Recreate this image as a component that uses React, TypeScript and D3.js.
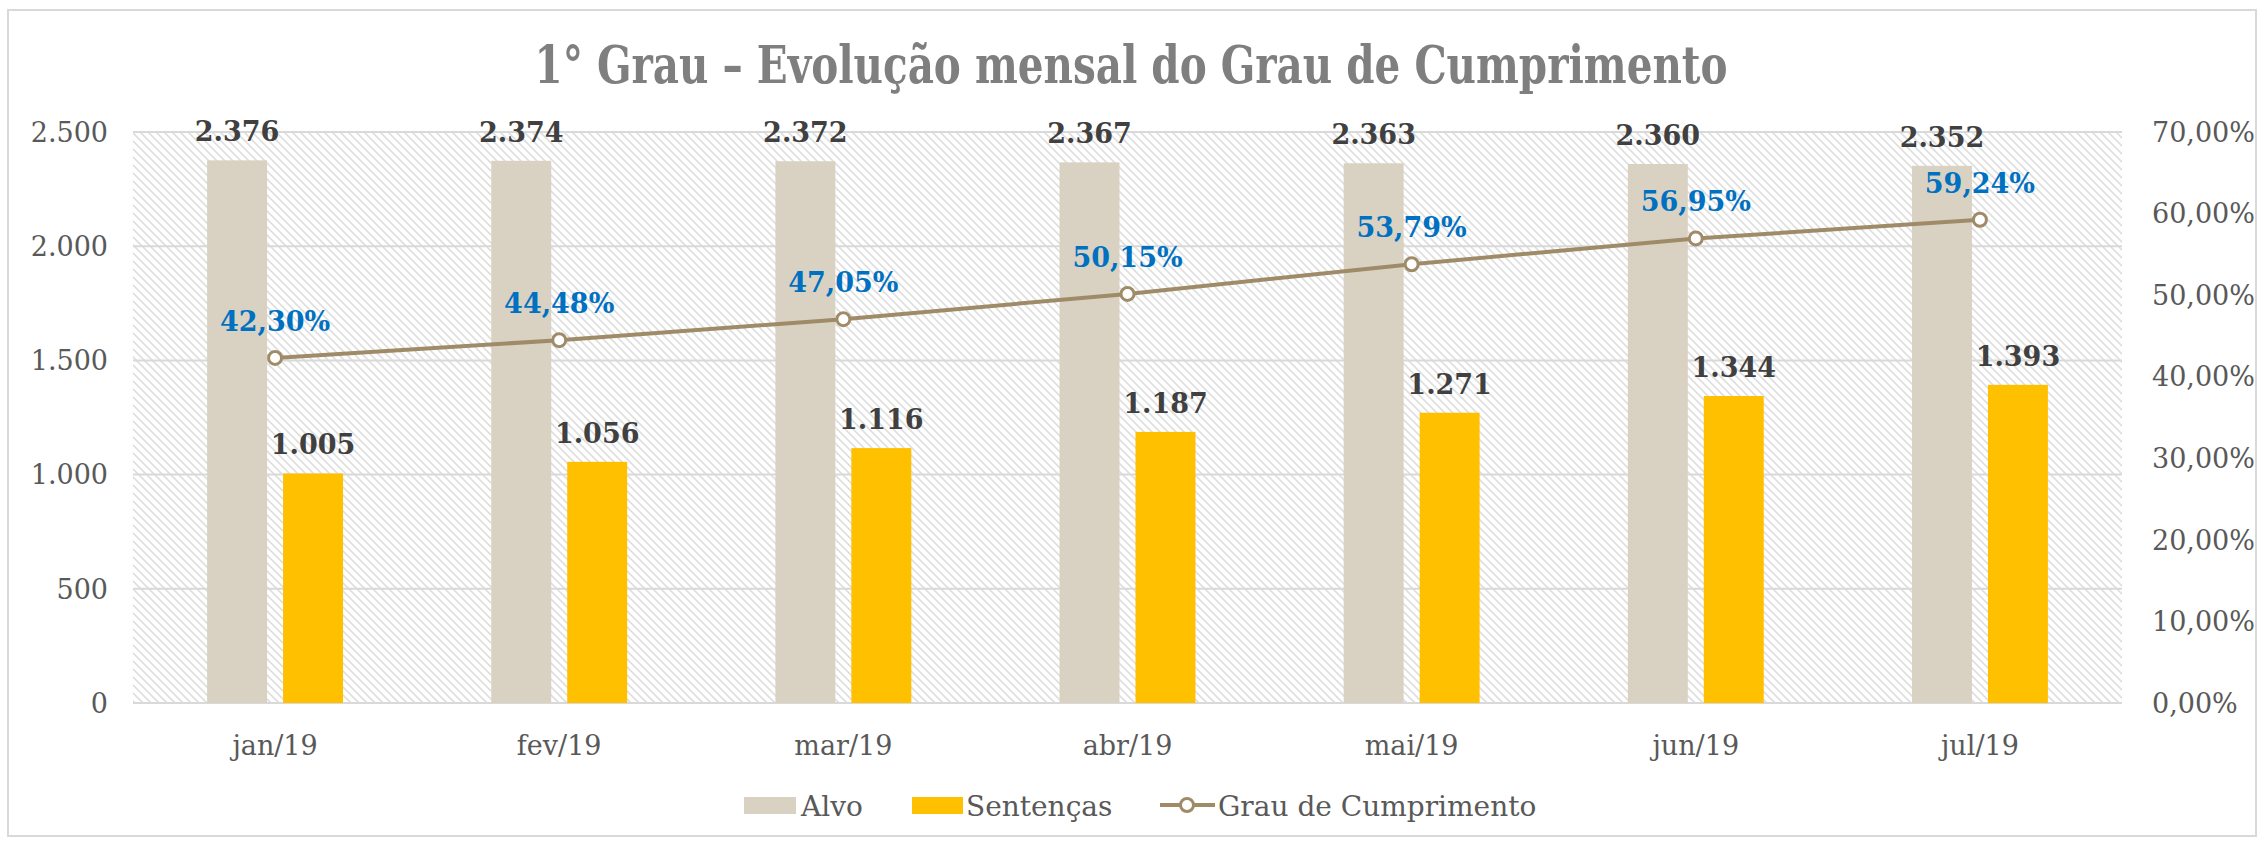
import React from 'react';
import * as d3 from 'd3';

const months = ['jan/19', 'fev/19', 'mar/19', 'abr/19', 'mai/19', 'jun/19', 'jul/19'];
const alvo = [2376, 2374, 2372, 2367, 2363, 2360, 2352];
const sentencas = [1005, 1056, 1116, 1187, 1271, 1344, 1393];
const grau = [42.30, 44.48, 47.05, 50.15, 53.79, 56.95, 59.24];
const leftTicks = [0, 500, 1000, 1500, 2000, 2500];
const rightTicks = [0, 10, 20, 30, 40, 50, 60, 70];

const W = 2262;
const H = 843;
const plot = { left: 133, right: 2122, top: 132, bottom: 703 };

const ptBR = d3.formatLocale({ decimal: ',', thousands: '.', grouping: [3], currency: ['R$', ''] });
const fmtInt = ptBR.format(',d');
const fmtPct = (v: number) => ptBR.format('.2f')(v) + '%';

const SERIF = '"DejaVu Serif", serif';

const App = () => {
  const x = d3.scaleBand().domain(months).range([plot.left, plot.right]);
  const yL = d3.scaleLinear().domain([0, 2500]).range([plot.bottom, plot.top]);
  const yR = d3.scaleLinear().domain([0, 70]).range([plot.bottom, plot.top]);

  const barW = x.bandwidth() * 0.211;
  const gap = 8;
  const cx = (m: string) => (x(m) as number) + x.bandwidth() / 2;

  const line = d3.line<number>()
    .x((d, i) => cx(months[i]))
    .y((d) => yR(d));

  return (
    <svg width={W} height={H} style={{ position: 'absolute', left: 0, top: 0, background: '#fff' }}>
      <defs>
        <pattern id="hatch" width={8} height={8} patternUnits="userSpaceOnUse">
          <path d="M0,0 L8,8 M-4,4 L4,12 M4,-4 L12,4" stroke="#dedede" strokeWidth={1.6} />
        </pattern>
      </defs>

      {/* outer frame */}
      <rect x={8} y={10} width={2248} height={826} fill="#fff" stroke="#d9d9d9" strokeWidth={2} />

      {/* title */}
      <text x={1131} y={83} textAnchor="middle" fill="#7f7f7f"
        style={{ fontFamily: '"DejaVu Serif Condensed", "DejaVu Serif", serif', fontWeight: 700, fontStretch: 'condensed' }}
        fontSize={52} textLength={1193} lengthAdjust="spacingAndGlyphs">
        1° Grau – Evolução mensal do Grau de Cumprimento
      </text>

      {/* plot background */}
      <rect x={plot.left} y={plot.top} width={plot.right - plot.left} height={plot.bottom - plot.top} fill="url(#hatch)" />

      {/* gridlines */}
      {leftTicks.map((t) => (
        <line key={t} x1={plot.left} x2={plot.right} y1={yL(t)} y2={yL(t)} stroke="#d9d9d9" strokeWidth={2} />
      ))}

      {/* left axis */}
      {leftTicks.map((t) => (
        <text key={t} x={108} y={yL(t)} dy="0.36em" textAnchor="end" fill="#595959"
          fontFamily={SERIF} fontSize={27}>{fmtInt(t)}</text>
      ))}

      {/* right axis */}
      {rightTicks.map((t) => (
        <text key={t} x={2152} y={yR(t)} dy="0.36em" textAnchor="start" fill="#595959"
          fontFamily={SERIF} fontSize={27}>{fmtPct(t)}</text>
      ))}

      {/* x labels */}
      {months.map((m) => (
        <text key={m} x={cx(m)} y={755} textAnchor="middle" fill="#595959"
          fontFamily={SERIF} fontSize={27}>{m}</text>
      ))}

      {/* bars */}
      {months.map((m, i) => (
        <g key={m}>
          <rect x={cx(m) - gap - barW} y={yL(alvo[i])} width={barW} height={yL(0) - yL(alvo[i])} fill="#d9d2c3" />
          <rect x={cx(m) + gap} y={yL(sentencas[i])} width={barW} height={yL(0) - yL(sentencas[i])} fill="#ffc000" />
          <text x={cx(m) - gap - barW / 2} y={yL(alvo[i]) - 19} textAnchor="middle" fill="#404040"
            fontFamily={SERIF} fontWeight={700} fontSize={27}>{fmtInt(alvo[i])}</text>
          <text x={cx(m) + gap + barW / 2} y={yL(sentencas[i]) - 19} textAnchor="middle" fill="#404040"
            fontFamily={SERIF} fontWeight={700} fontSize={27}>{fmtInt(sentencas[i])}</text>
        </g>
      ))}

      {/* line */}
      <path d={line(grau) || ''} fill="none" stroke="#a08b68" strokeWidth={4} />
      {grau.map((g, i) => (
        <g key={i}>
          <circle cx={cx(months[i])} cy={yR(g)} r={6.5} fill="#fff" stroke="#a08b68" strokeWidth={3} />
          <text x={cx(months[i])} y={yR(g) - 27} textAnchor="middle" fill="#0070c0"
            fontFamily={SERIF} fontWeight={700} fontSize={27}>{fmtPct(g)}</text>
        </g>
      ))}

      {/* legend */}
      <rect x={744} y={797} width={52} height={17} fill="#d9d2c3" />
      <text x={801} y={816} fill="#595959" fontFamily={SERIF} fontSize={28}>Alvo</text>
      <rect x={912} y={797} width={51} height={17} fill="#ffc000" />
      <text x={966} y={816} fill="#595959" fontFamily={SERIF} fontSize={28}>Sentenças</text>
      <line x1={1160} x2={1215} y1={805} y2={805} stroke="#a08b68" strokeWidth={4} />
      <circle cx={1187} cy={805} r={6.5} fill="#fff" stroke="#a08b68" strokeWidth={3} />
      <text x={1218} y={816} fill="#595959" fontFamily={SERIF} fontSize={28}>Grau de Cumprimento</text>
    </svg>
  );
};

export default App;
